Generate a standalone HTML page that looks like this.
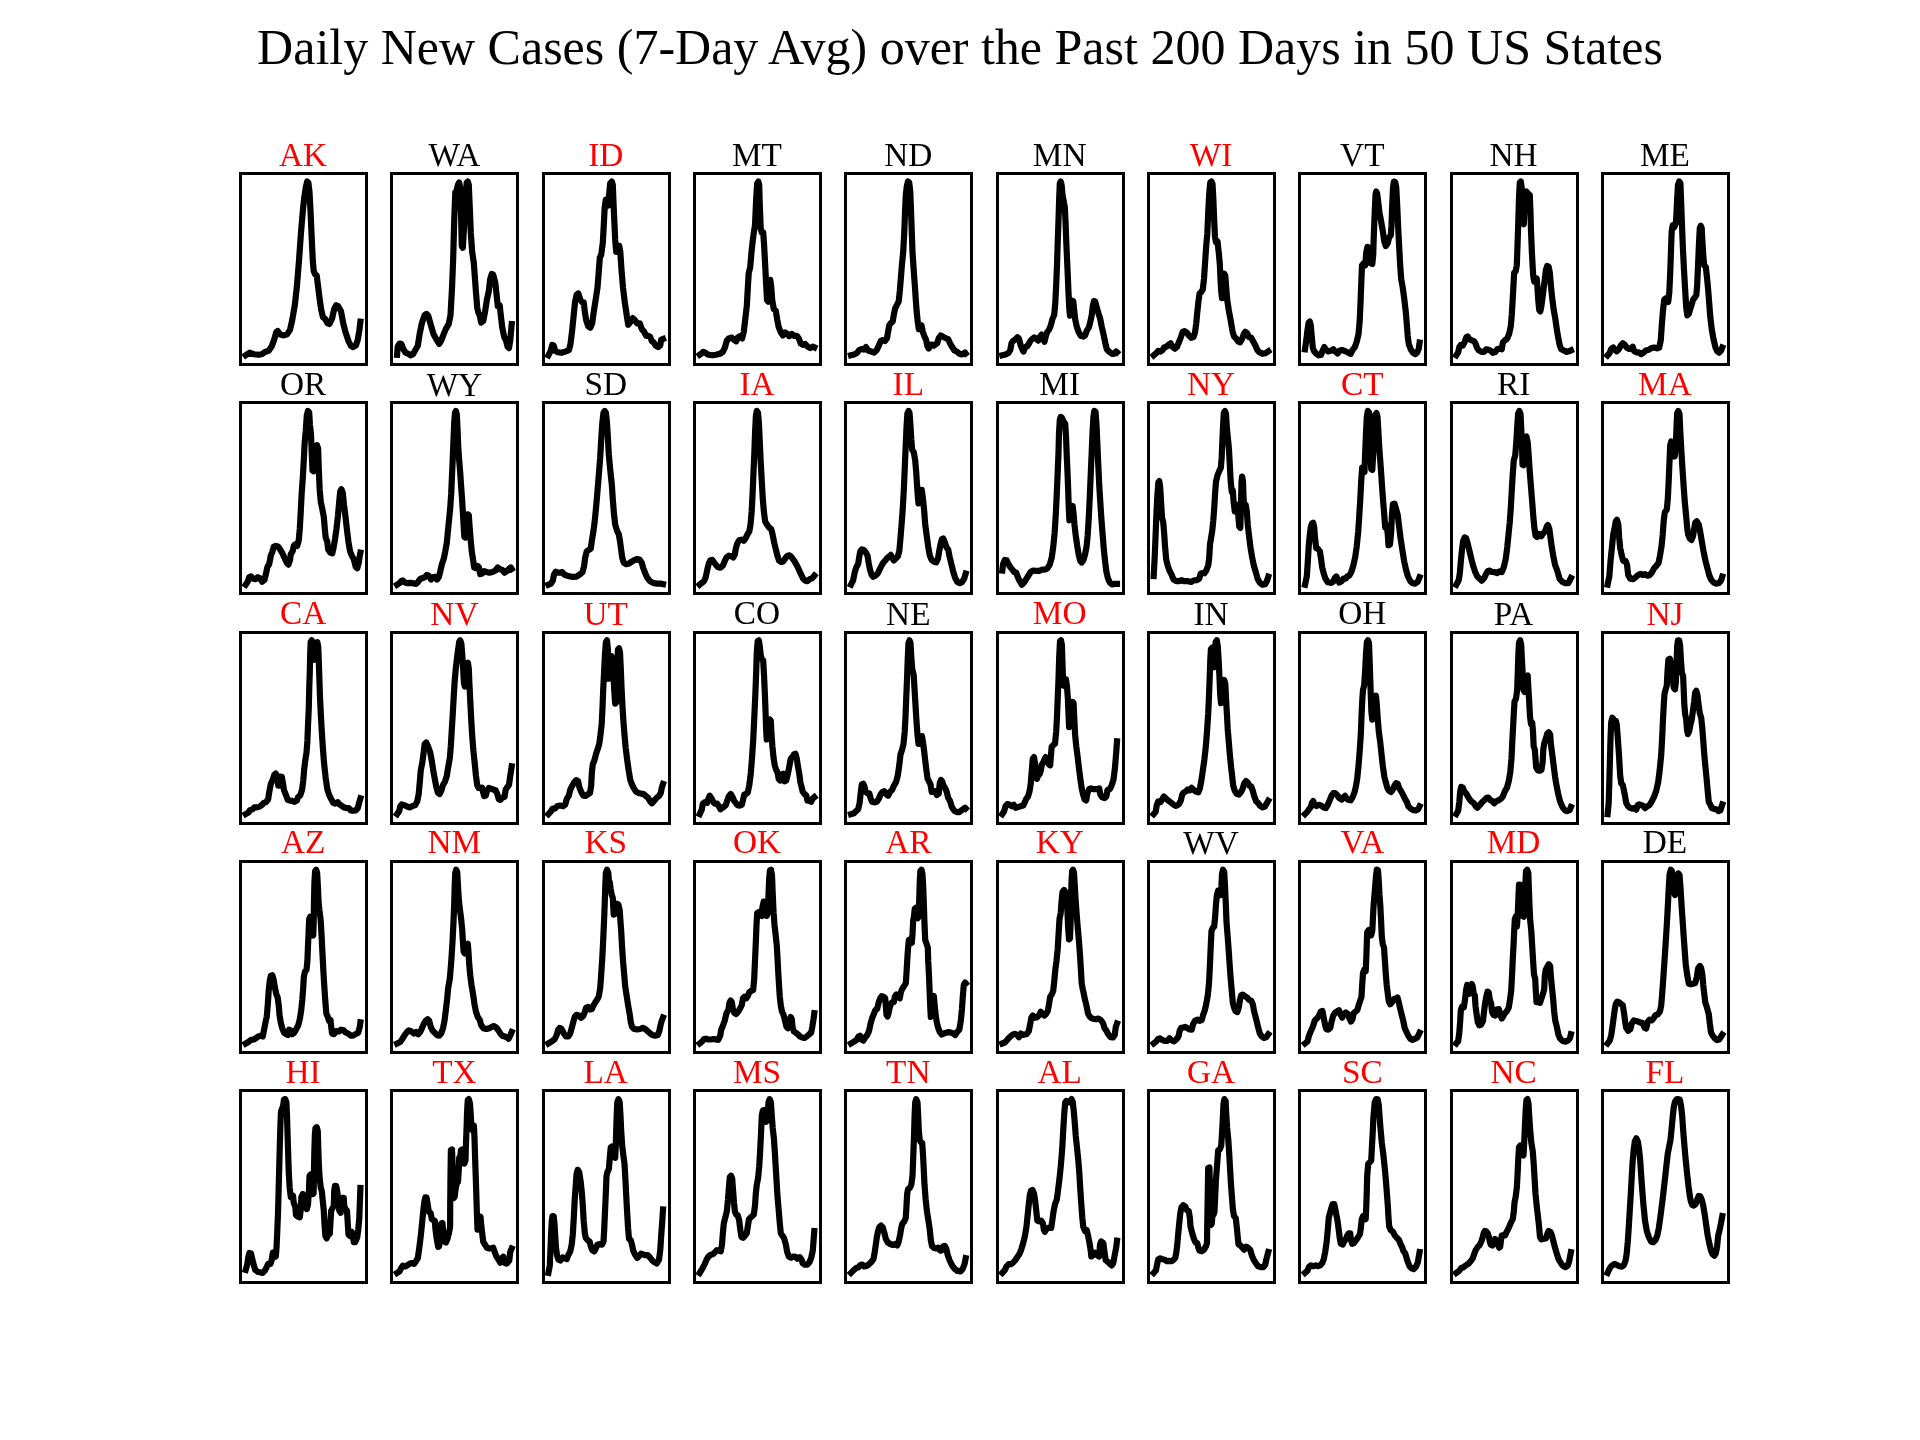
<!DOCTYPE html>
<html><head><meta charset="utf-8"><title>Daily New Cases</title>
<style>html,body{margin:0;padding:0;background:#fff}svg{display:block}text{font-family:"Liberation Serif",serif}</style></head>
<body><div style="will-change:transform;width:1920px;height:1440px;overflow:hidden">
<svg width="1920" height="1440" viewBox="0 0 1920 1440">
<rect width="1920" height="1440" fill="#fff"/>
<text x="960" y="63.5" font-size="50" text-anchor="middle" fill="#000">Daily New Cases (7-Day Avg) over the Past 200 Days in 50 US States</text>
<g font-size="33.3" text-anchor="middle">
<text x="303.1"  y="165.8" fill="#f00">AK</text>
<text x="454.4"  y="165.8" fill="#000">WA</text>
<text x="605.7"  y="165.8" fill="#f00">ID</text>
<text x="757.0"  y="165.8" fill="#000">MT</text>
<text x="908.3"  y="165.8" fill="#000">ND</text>
<text x="1059.7"  y="165.8" fill="#000">MN</text>
<text x="1211.0"  y="165.8" fill="#f00">WI</text>
<text x="1362.3"  y="165.8" fill="#000">VT</text>
<text x="1513.6"  y="165.8" fill="#000">NH</text>
<text x="1664.9"  y="165.8" fill="#000">ME</text>
<text x="303.1"  y="394.6" fill="#000">OR</text>
<text x="454.4"  y="395.6" fill="#000">WY</text>
<text x="605.7"  y="394.6" fill="#000">SD</text>
<text x="757.0"  y="394.6" fill="#f00">IA</text>
<text x="908.3"  y="394.6" fill="#f00">IL</text>
<text x="1059.7"  y="394.6" fill="#000">MI</text>
<text x="1211.0"  y="394.6" fill="#f00">NY</text>
<text x="1362.3"  y="394.6" fill="#f00">CT</text>
<text x="1513.6"  y="394.6" fill="#000">RI</text>
<text x="1664.9"  y="394.6" fill="#f00">MA</text>
<text x="303.1"  y="624.1" fill="#f00">CA</text>
<text x="454.4"  y="625.1" fill="#f00">NV</text>
<text x="605.7"  y="625.1" fill="#f00">UT</text>
<text x="757.0"  y="624.1" fill="#000">CO</text>
<text x="908.3"  y="625.1" fill="#000">NE</text>
<text x="1059.7"  y="624.1" fill="#f00">MO</text>
<text x="1211.0"  y="625.1" fill="#000">IN</text>
<text x="1362.3"  y="624.1" fill="#000">OH</text>
<text x="1513.6"  y="625.1" fill="#000">PA</text>
<text x="1664.9"  y="625.1" fill="#f00">NJ</text>
<text x="303.1"  y="853.4" fill="#f00">AZ</text>
<text x="454.4"  y="853.4" fill="#f00">NM</text>
<text x="605.7"  y="853.4" fill="#f00">KS</text>
<text x="757.0"  y="853.4" fill="#f00">OK</text>
<text x="908.3"  y="853.4" fill="#f00">AR</text>
<text x="1059.7"  y="853.4" fill="#f00">KY</text>
<text x="1211.0"  y="854.4" fill="#000">WV</text>
<text x="1362.3"  y="853.4" fill="#f00">VA</text>
<text x="1513.6"  y="853.4" fill="#f00">MD</text>
<text x="1664.9"  y="853.4" fill="#000">DE</text>
<text x="303.1"  y="1082.5" fill="#f00">HI</text>
<text x="454.4"  y="1082.5" fill="#f00">TX</text>
<text x="605.7"  y="1082.5" fill="#f00">LA</text>
<text x="757.0"  y="1082.5" fill="#f00">MS</text>
<text x="908.3"  y="1082.5" fill="#f00">TN</text>
<text x="1059.7"  y="1082.5" fill="#f00">AL</text>
<text x="1211.0"  y="1082.5" fill="#f00">GA</text>
<text x="1362.3"  y="1082.5" fill="#f00">SC</text>
<text x="1513.6"  y="1082.5" fill="#f00">NC</text>
<text x="1664.9"  y="1082.5" fill="#f00">FL</text>
</g>
<g fill="none" stroke="#000" stroke-width="3">
<rect x="240.5" y="173.5" width="126.0" height="191.0"/>
<rect x="391.5" y="173.5" width="126.0" height="191.0"/>
<rect x="543.5" y="173.5" width="126.0" height="191.0"/>
<rect x="694.5" y="173.5" width="126.0" height="191.0"/>
<rect x="845.5" y="173.5" width="126.0" height="191.0"/>
<rect x="997.5" y="173.5" width="126.0" height="191.0"/>
<rect x="1148.5" y="173.5" width="126.0" height="191.0"/>
<rect x="1299.5" y="173.5" width="126.0" height="191.0"/>
<rect x="1451.5" y="173.5" width="126.0" height="191.0"/>
<rect x="1602.5" y="173.5" width="126.0" height="191.0"/>
<rect x="240.5" y="402.5" width="126.0" height="191.0"/>
<rect x="391.5" y="402.5" width="126.0" height="191.0"/>
<rect x="543.5" y="402.5" width="126.0" height="191.0"/>
<rect x="694.5" y="402.5" width="126.0" height="191.0"/>
<rect x="845.5" y="402.5" width="126.0" height="191.0"/>
<rect x="997.5" y="402.5" width="126.0" height="191.0"/>
<rect x="1148.5" y="402.5" width="126.0" height="191.0"/>
<rect x="1299.5" y="402.5" width="126.0" height="191.0"/>
<rect x="1451.5" y="402.5" width="126.0" height="191.0"/>
<rect x="1602.5" y="402.5" width="126.0" height="191.0"/>
<rect x="240.5" y="632.5" width="126.0" height="191.0"/>
<rect x="391.5" y="632.5" width="126.0" height="191.0"/>
<rect x="543.5" y="632.5" width="126.0" height="191.0"/>
<rect x="694.5" y="632.5" width="126.0" height="191.0"/>
<rect x="845.5" y="632.5" width="126.0" height="191.0"/>
<rect x="997.5" y="632.5" width="126.0" height="191.0"/>
<rect x="1148.5" y="632.5" width="126.0" height="191.0"/>
<rect x="1299.5" y="632.5" width="126.0" height="191.0"/>
<rect x="1451.5" y="632.5" width="126.0" height="191.0"/>
<rect x="1602.5" y="632.5" width="126.0" height="191.0"/>
<rect x="240.5" y="861.5" width="126.0" height="191.0"/>
<rect x="391.5" y="861.5" width="126.0" height="191.0"/>
<rect x="543.5" y="861.5" width="126.0" height="191.0"/>
<rect x="694.5" y="861.5" width="126.0" height="191.0"/>
<rect x="845.5" y="861.5" width="126.0" height="191.0"/>
<rect x="997.5" y="861.5" width="126.0" height="191.0"/>
<rect x="1148.5" y="861.5" width="126.0" height="191.0"/>
<rect x="1299.5" y="861.5" width="126.0" height="191.0"/>
<rect x="1451.5" y="861.5" width="126.0" height="191.0"/>
<rect x="1602.5" y="861.5" width="126.0" height="191.0"/>
<rect x="240.5" y="1090.5" width="126.0" height="192.0"/>
<rect x="391.5" y="1090.5" width="126.0" height="192.0"/>
<rect x="543.5" y="1090.5" width="126.0" height="192.0"/>
<rect x="694.5" y="1090.5" width="126.0" height="192.0"/>
<rect x="845.5" y="1090.5" width="126.0" height="192.0"/>
<rect x="997.5" y="1090.5" width="126.0" height="192.0"/>
<rect x="1148.5" y="1090.5" width="126.0" height="192.0"/>
<rect x="1299.5" y="1090.5" width="126.0" height="192.0"/>
<rect x="1451.5" y="1090.5" width="126.0" height="192.0"/>
<rect x="1602.5" y="1090.5" width="126.0" height="192.0"/>
</g>
<g fill="none" stroke="#000" stroke-width="6.2" stroke-linejoin="round" stroke-linecap="square">
<polyline points="245.7,355.3 249.5,352.7 254.0,354.2 258.5,354.8 261.8,354.2 265.2,351.9 268.7,350.8 271.7,346.3 274.2,339.6 276.2,332.2 277.7,331.0 280.2,334.4 284.0,335.4 287.0,334.4 290.0,329.9 292.2,320.2 294.8,305.3 296.8,287.4 299.0,260.6 300.9,233.7 302.8,211.3 304.2,197.9 305.8,187.5 307.2,181.5 308.4,183.0 309.5,191.9 310.6,212.8 311.8,239.7 312.8,260.6 313.7,271.0 315.1,274.3 316.7,275.5 318.2,287.4 319.7,299.3 321.2,309.8 323.0,317.2 325.2,319.0 327.5,323.2 329.3,324.0 332.0,318.7 334.2,309.0 336.2,305.3 338.0,306.1 341.0,311.3 343.2,323.2 345.5,332.2 348.5,341.1 350.8,345.6 353.0,347.1 356.0,345.3 357.8,339.6 359.3,330.7 360.4,321.7"/>
<polyline points="397.1,354.8 397.7,346.6 399.5,343.6 401.3,343.9 403.2,348.8 405.5,352.6 408.5,353.8 410.8,355.3 413.0,354.1 415.2,350.3 417.8,345.8 419.8,333.1 422.0,322.6 424.7,315.1 426.5,313.9 428.3,315.9 431.0,325.6 433.7,334.6 436.2,339.1 439.2,343.9 441.2,340.6 443.8,333.9 446.0,328.6 448.7,324.1 450.5,315.1 452.0,288.2 453.2,258.2 454.2,220.7 455.3,192.3 456.5,190.8 458.0,184.8 459.2,182.5 460.2,187.8 461.0,213.3 461.8,246.2 462.8,247.7 464.0,228.2 465.5,198.3 466.7,182.5 467.8,181.5 468.8,184.8 469.7,205.8 470.8,232.7 472.2,252.2 473.8,262.7 474.8,276.2 476.0,292.7 477.2,307.6 478.2,312.1 479.8,315.9 481.2,322.6 483.2,321.1 485.0,312.1 486.8,300.1 488.8,291.2 490.2,279.2 491.8,273.9 493.2,274.7 495.2,282.2 496.7,295.7 497.8,306.1 499.7,305.4 500.8,315.1 502.2,327.1 504.2,336.9 506.0,340.6 507.5,346.6 509.0,348.1 510.2,340.6 511.7,324.1"/>
<polyline points="548.4,355.3 550.7,350.8 552.2,344.9 553.7,345.6 555.2,350.8 557.8,352.3 561.5,352.8 565.2,351.6 569.0,350.1 570.5,344.1 572.3,329.2 573.8,314.3 575.0,302.4 576.5,295.0 578.3,293.5 580.2,299.4 582.2,302.4 583.7,302.4 584.8,311.4 586.2,320.3 588.2,326.2 590.3,327.7 592.2,323.3 593.8,311.4 595.7,299.4 597.5,287.5 598.7,272.6 599.8,257.7 601.2,254.8 602.8,242.8 603.8,225.0 604.7,207.1 605.8,199.7 607.2,200.4 608.3,205.6 609.2,193.7 610.2,183.3 611.8,181.5 612.8,184.8 613.5,202.6 614.3,220.5 615.2,239.9 616.2,251.8 617.8,251.8 619.2,245.8 620.3,251.8 621.5,269.7 623.0,287.5 624.8,302.4 626.8,315.8 628.2,324.8 630.5,321.8 632.8,318.1 635.0,320.3 637.2,323.3 639.8,323.3 641.8,329.2 644.0,331.5 646.2,335.9 648.2,335.9 650.0,336.7 651.8,341.1 653.8,342.6 655.7,345.6 658.2,347.1 660.2,345.6 661.2,339.6 663.0,338.9"/>
<polyline points="699.7,354.8 701.8,353.3 703.2,351.8 705.5,352.9 708.5,354.8 712.2,355.3 716.0,354.8 719.8,353.8 722.8,351.8 725.0,347.3 726.8,340.6 728.8,338.4 731.8,337.6 734.0,339.9 736.2,341.3 737.8,337.6 740.0,336.1 742.2,338.4 743.8,331.6 745.2,319.6 746.8,306.1 747.8,288.2 748.7,273.2 750.2,267.2 751.2,255.2 752.8,240.2 753.8,232.7 755.0,225.2 756.2,198.3 757.2,183.3 758.3,181.5 759.2,184.8 759.8,205.8 760.7,228.2 761.8,232.7 763.2,232.7 764.0,243.2 765.2,265.7 766.2,285.2 767.0,300.1 768.2,301.6 769.2,288.2 770.3,279.9 771.2,286.7 772.2,300.1 773.8,309.1 775.7,310.6 777.2,319.6 778.7,327.1 780.8,332.4 782.8,335.4 785.0,332.4 787.2,333.9 789.2,336.1 791.8,333.9 794.0,335.8 796.7,335.8 798.8,338.4 800.8,343.6 803.0,344.8 805.2,343.9 807.5,346.6 810.2,348.1 812.8,346.6 814.3,347.3"/>
<polyline points="851.0,355.3 854.0,354.5 857.0,353.0 859.2,350.0 861.5,349.0 863.8,349.6 866.0,347.1 868.2,350.5 871.2,351.5 874.2,352.6 876.8,350.0 878.8,345.6 880.7,341.1 882.8,340.0 884.8,341.1 887.0,338.1 888.2,331.4 889.2,325.4 890.8,323.1 892.7,321.6 893.8,314.9 895.2,308.2 896.8,305.2 898.7,301.4 899.8,291.0 900.8,279.0 902.0,264.0 903.2,252.1 904.2,234.1 905.0,213.2 905.8,195.2 906.8,186.3 908.0,181.5 909.2,182.5 910.2,190.8 911.0,210.2 911.8,232.6 912.5,252.1 913.7,270.0 914.8,285.0 915.8,299.9 916.7,311.9 917.8,322.4 918.8,329.1 920.0,326.9 921.5,325.4 922.7,331.4 924.2,335.8 926.0,339.6 927.5,346.3 928.7,348.6 930.5,344.8 932.0,344.5 933.8,345.6 937.2,343.3 938.8,338.1 940.7,335.5 942.8,336.6 945.5,338.1 948.2,339.1 950.0,343.3 952.2,347.1 954.5,350.5 956.8,351.5 959.0,353.5 962.0,354.5 965.0,352.6 965.7,353.5"/>
<polyline points="1002.3,355.3 1005.5,354.5 1008.5,353.0 1010.3,350.0 1011.5,343.3 1013.0,341.1 1015.2,339.6 1017.5,337.3 1019.0,338.8 1020.5,344.8 1022.3,349.3 1023.5,351.5 1025.3,347.1 1027.2,346.3 1029.2,343.3 1030.2,341.1 1032.5,338.8 1034.3,337.3 1036.2,338.5 1038.2,340.6 1039.7,337.3 1041.5,334.6 1043.0,338.1 1044.5,341.8 1045.7,336.6 1047.2,332.1 1049.0,329.9 1050.8,325.4 1052.3,319.4 1054.2,314.9 1055.3,302.9 1056.2,285.0 1057.0,265.5 1057.7,243.1 1058.5,220.7 1059.2,198.2 1059.8,183.3 1060.7,181.5 1061.6,184.8 1062.5,195.2 1063.7,201.2 1064.8,207.2 1065.5,220.7 1066.2,240.1 1067.0,258.1 1067.8,276.0 1068.5,292.5 1069.2,307.4 1070.0,315.6 1071.0,310.4 1072.2,300.7 1073.3,301.4 1074.2,310.4 1075.2,319.4 1076.8,326.9 1078.7,332.1 1080.8,335.8 1083.5,336.6 1085.3,335.1 1086.8,330.6 1088.8,327.6 1090.2,322.4 1091.8,314.9 1092.8,305.9 1094.0,301.1 1095.2,301.4 1096.7,307.4 1098.5,313.4 1100.0,317.9 1101.8,326.9 1103.8,335.8 1105.7,344.8 1106.8,349.3 1109.0,351.5 1112.0,353.8 1114.2,353.8 1116.2,351.5 1117.0,352.3"/>
<polyline points="1153.7,355.3 1156.8,352.7 1158.2,350.8 1160.5,351.7 1162.8,349.8 1164.2,347.2 1166.5,346.8 1168.8,344.5 1170.7,343.3 1172.5,346.8 1174.8,348.7 1177.0,346.8 1179.2,341.5 1181.2,336.3 1182.7,331.8 1184.5,331.1 1186.8,332.6 1189.0,335.6 1191.2,337.8 1193.5,337.1 1195.0,332.6 1196.2,323.6 1197.2,313.2 1198.3,302.7 1199.5,293.8 1201.0,292.3 1202.8,289.3 1204.0,278.8 1205.2,260.9 1206.2,246.0 1207.3,234.0 1208.2,213.1 1209.2,193.7 1210.3,182.5 1211.5,181.5 1212.5,184.0 1213.3,198.2 1214.2,220.6 1215.0,237.0 1216.0,242.3 1217.5,241.5 1218.7,252.0 1219.8,263.9 1220.5,278.8 1221.2,290.8 1222.0,298.2 1223.2,287.8 1224.2,273.6 1225.3,275.9 1226.2,287.8 1227.2,299.7 1228.8,310.2 1230.7,320.6 1232.5,331.1 1234.0,336.3 1236.2,338.6 1238.2,341.5 1240.0,342.3 1242.2,338.6 1243.8,334.1 1245.2,331.8 1247.2,333.3 1249.0,337.1 1251.2,337.8 1253.2,341.5 1255.3,345.3 1257.2,349.8 1259.5,352.3 1262.5,353.8 1265.5,353.2 1268.3,351.3"/>
<polyline points="1305.0,349.3 1306.3,340.3 1307.5,329.9 1308.7,322.4 1309.8,321.6 1310.8,325.4 1311.7,335.8 1312.8,347.8 1314.2,351.5 1316.5,353.8 1318.8,355.3 1321.0,355.0 1322.5,350.8 1324.3,347.1 1326.2,350.0 1328.2,351.5 1330.8,350.8 1333.3,349.3 1335.2,351.5 1337.5,353.5 1339.8,350.5 1342.0,350.0 1345.0,351.1 1348.0,352.6 1350.7,353.8 1352.5,350.0 1354.8,347.1 1356.7,341.8 1358.5,334.3 1359.7,320.9 1360.5,302.9 1361.2,285.0 1362.0,265.5 1363.8,263.3 1365.2,265.5 1366.3,252.1 1367.5,246.8 1368.7,247.6 1369.8,255.1 1370.8,263.3 1372.3,264.0 1373.2,255.1 1373.8,235.6 1374.7,213.2 1375.5,195.2 1376.2,191.5 1377.2,193.8 1378.3,202.7 1379.5,213.2 1381.0,220.7 1382.8,231.1 1384.3,241.6 1385.8,246.1 1387.8,243.1 1389.2,237.1 1390.8,235.6 1391.5,225.2 1392.2,205.7 1393.0,187.8 1393.9,181.5 1395.2,182.1 1396.3,187.8 1397.2,205.7 1398.2,228.2 1399.3,249.1 1400.2,265.5 1401.2,279.0 1402.8,288.0 1404.2,298.4 1405.8,311.9 1406.8,323.9 1407.7,335.8 1408.8,344.1 1410.7,349.3 1413.2,353.0 1415.5,354.1 1417.3,352.3 1418.8,348.6 1419.6,342.6"/>
<polyline points="1456.3,355.3 1458.2,352.3 1459.3,347.1 1460.8,344.9 1462.8,345.6 1464.7,341.9 1466.2,337.4 1467.7,336.4 1469.5,339.3 1471.8,340.4 1474.0,341.1 1475.5,343.4 1477.0,347.8 1478.8,350.4 1481.5,351.9 1484.2,351.9 1486.3,349.3 1488.7,349.8 1490.8,350.8 1492.8,352.8 1495.0,352.3 1497.2,349.3 1499.2,348.6 1501.8,349.3 1502.8,342.6 1504.8,340.4 1507.0,338.9 1509.2,333.7 1510.8,326.2 1511.8,314.3 1512.7,299.4 1513.5,284.5 1514.2,272.6 1515.7,271.1 1516.8,265.2 1517.5,245.8 1518.2,225.0 1519.0,198.2 1519.8,182.5 1520.8,181.5 1521.7,187.7 1522.3,205.6 1522.9,223.5 1523.8,224.2 1524.4,210.1 1525.0,192.2 1526.2,191.5 1527.7,193.0 1528.8,195.2 1529.8,195.2 1530.4,210.1 1531.0,230.9 1531.8,250.3 1532.5,263.7 1533.2,275.6 1534.3,281.6 1535.5,279.3 1536.7,278.6 1537.5,287.5 1538.2,299.4 1539.2,309.9 1540.3,311.4 1541.5,305.4 1543.0,293.5 1544.5,281.6 1546.0,269.7 1547.2,265.9 1548.7,266.7 1549.8,272.6 1550.8,284.5 1552.0,296.5 1553.5,308.4 1555.3,318.8 1556.8,329.2 1558.3,338.2 1559.8,345.6 1561.3,349.3 1563.7,350.4 1566.2,351.9 1568.8,351.3 1570.9,350.4"/>
<polyline points="1607.6,355.3 1609.8,352.7 1611.2,349.0 1613.2,347.5 1615.0,349.8 1616.8,351.3 1618.8,349.3 1621.0,345.3 1622.8,343.3 1624.8,344.8 1627.0,347.8 1629.2,349.0 1631.2,348.3 1632.7,346.8 1634.2,351.3 1636.3,352.3 1638.7,352.3 1641.2,354.2 1643.5,352.7 1645.8,350.5 1648.8,349.8 1651.0,348.3 1654.0,347.5 1657.0,348.3 1659.2,347.5 1660.8,340.1 1661.8,325.1 1663.0,310.2 1664.2,299.7 1666.0,298.2 1668.2,302.0 1669.3,292.3 1670.2,272.9 1671.0,250.5 1671.7,231.1 1672.8,225.1 1674.2,227.3 1675.8,223.6 1676.5,213.1 1677.2,198.2 1678.0,184.8 1679.2,181.5 1680.4,183.3 1681.0,198.2 1681.8,220.6 1682.8,246.0 1684.0,269.9 1685.2,290.8 1686.2,307.2 1687.3,315.4 1688.8,313.9 1690.3,308.7 1691.8,304.2 1693.0,299.7 1694.8,297.5 1696.3,295.3 1697.2,284.8 1698.1,263.9 1699.0,243.0 1699.8,228.1 1700.8,225.8 1701.7,228.1 1702.3,240.0 1703.2,254.9 1704.2,265.4 1705.8,266.9 1706.8,275.9 1708.0,287.8 1709.2,302.7 1710.2,316.2 1711.8,329.6 1713.7,340.1 1715.5,347.5 1717.3,351.3 1719.2,352.7 1721.2,350.5 1722.3,347.5"/>
<polyline points="245.7,584.7 247.7,581.7 249.2,577.2 251.0,576.5 253.2,578.7 255.5,579.2 257.8,577.2 260.0,578.3 262.2,581.7 264.5,579.8 266.0,573.5 267.5,566.8 269.3,563.8 270.8,555.6 272.3,551.9 273.8,546.6 275.8,545.9 278.0,546.4 280.2,549.6 282.5,553.4 284.8,558.6 287.0,563.1 288.5,564.6 290.0,560.1 290.8,554.1 292.7,551.1 293.8,545.9 295.2,544.4 297.2,545.9 298.7,540.7 299.8,528.7 300.8,510.8 301.7,492.9 302.8,478.0 303.8,460.1 304.7,442.2 305.8,430.3 306.8,415.4 308.0,410.9 309.2,412.4 309.9,424.3 311.0,434.8 311.8,454.2 312.5,470.6 313.7,471.3 314.8,460.1 315.8,446.7 317.0,445.2 318.1,448.2 318.8,469.1 319.7,490.0 320.8,501.9 322.2,508.6 323.8,516.8 324.8,528.7 325.7,537.7 327.2,541.4 328.2,549.6 330.2,552.6 332.3,553.4 333.5,548.1 335.0,539.2 336.5,528.7 338.0,515.3 339.2,501.9 340.2,491.5 341.4,489.2 342.8,492.9 344.0,504.9 345.5,516.8 347.0,530.2 348.5,542.2 350.0,551.1 351.8,555.6 353.8,559.3 355.7,566.8 357.2,568.3 358.7,563.1 359.8,555.6 360.4,552.6"/>
<polyline points="397.1,584.7 399.5,583.2 401.3,581.0 402.8,580.5 404.8,582.4 407.0,583.2 410.0,582.9 413.0,583.2 416.0,583.9 418.2,581.7 420.5,578.7 422.8,578.0 425.0,577.2 426.8,575.0 428.8,575.7 431.0,579.5 432.8,577.2 434.8,576.9 437.0,579.5 438.8,577.2 440.3,571.2 441.8,564.5 443.8,558.5 445.2,551.8 446.8,542.8 447.8,532.3 449.0,520.4 450.2,508.4 451.2,493.5 452.0,475.5 452.8,457.6 453.5,439.6 454.2,423.2 455.0,412.7 455.9,410.9 456.8,414.2 457.6,430.6 458.3,448.6 459.2,460.6 460.2,472.5 461.0,484.5 462.1,499.4 462.8,511.4 463.7,526.4 464.3,536.8 465.5,537.6 466.7,524.9 467.8,514.4 468.8,515.1 469.7,527.9 470.8,541.3 471.8,551.8 473.0,559.3 474.2,567.5 475.7,568.2 477.5,566.0 479.0,567.5 480.2,574.2 482.0,573.5 484.2,571.2 486.5,572.0 489.5,572.7 492.5,572.0 495.5,570.5 497.8,567.5 500.0,569.4 502.2,569.7 504.5,572.7 506.8,571.2 509.0,569.0 510.8,567.5 511.7,569.0"/>
<polyline points="548.4,584.7 551.0,583.6 552.8,580.7 554.0,574.7 555.8,571.7 557.8,572.7 560.0,572.7 562.2,572.1 564.5,574.7 567.5,575.7 570.5,576.6 573.5,576.9 576.5,576.6 579.5,574.7 582.5,572.1 584.0,566.5 585.2,557.5 586.7,551.5 588.5,550.1 590.8,548.6 591.8,541.1 593.3,532.1 594.5,523.2 595.7,511.2 596.8,499.3 597.8,487.3 599.0,472.4 600.2,457.5 601.2,439.6 602.3,423.1 603.5,412.7 604.7,410.9 605.9,412.7 607.0,423.1 608.0,439.6 608.8,454.5 610.2,469.4 611.8,484.4 612.8,499.3 614.0,514.2 615.2,524.7 617.0,530.6 618.8,534.4 620.0,541.1 621.2,550.1 622.2,557.5 623.8,562.7 626.0,564.2 628.2,563.8 631.2,562.0 634.2,560.2 637.2,559.0 639.8,559.8 641.8,562.7 643.2,568.0 645.2,573.2 647.3,577.7 650.0,581.1 653.0,582.9 656.8,583.6 660.5,583.6 663.0,584.1"/>
<polyline points="699.7,584.7 702.2,582.6 704.3,580.7 705.8,576.9 707.3,569.5 708.8,563.5 710.3,560.5 712.2,559.8 713.8,562.0 716.0,565.0 718.2,567.2 720.5,567.7 722.8,565.7 724.7,561.2 726.5,557.5 728.8,555.7 731.0,556.0 733.2,557.5 734.8,554.5 735.8,548.6 737.3,543.3 739.2,540.3 741.5,539.6 743.8,540.8 745.7,538.1 747.5,534.4 749.3,531.4 750.5,524.7 751.7,511.2 752.6,493.3 753.5,472.4 754.4,451.5 755.1,432.1 755.9,415.7 756.8,410.9 758.0,412.7 758.9,423.1 759.8,442.5 760.7,462.0 761.8,481.4 762.8,499.3 764.0,512.7 765.2,521.7 767.0,524.7 769.2,527.7 771.2,529.1 772.7,535.1 774.2,542.6 776.0,550.1 777.5,556.0 779.0,560.5 781.2,562.0 783.5,561.2 785.3,558.3 787.2,556.0 789.5,555.3 791.3,556.8 794.0,560.5 796.2,564.2 798.5,568.7 800.8,573.9 803.0,578.4 805.2,580.7 807.5,581.1 809.8,579.2 812.0,578.4 814.3,575.7"/>
<polyline points="851.0,584.7 853.2,580.2 854.8,572.0 856.2,567.6 858.2,563.8 859.2,557.1 860.3,551.2 861.8,549.4 863.8,550.0 866.0,552.7 867.5,555.6 868.7,563.1 870.2,570.5 871.7,575.0 873.2,576.8 875.3,575.8 877.7,573.5 879.8,569.1 882.5,563.8 884.8,560.9 887.0,558.3 889.2,556.4 890.8,554.9 892.2,557.9 893.8,560.4 895.7,558.6 897.8,556.4 899.3,551.2 900.5,537.8 901.7,522.9 902.8,508.0 903.8,490.1 904.7,469.3 905.6,448.4 906.5,427.6 907.4,413.4 908.5,410.9 909.5,412.7 910.4,424.6 911.3,439.5 912.2,449.9 913.7,452.1 915.2,460.3 916.2,472.3 917.0,484.2 917.8,496.1 918.5,503.5 919.7,500.5 920.6,490.1 921.8,489.8 923.0,499.1 924.2,511.0 925.2,524.4 926.8,536.3 928.2,546.7 929.8,555.6 931.7,560.1 933.8,561.6 936.2,562.4 938.0,558.6 939.2,551.2 940.7,543.7 941.8,539.3 943.2,538.5 944.8,542.2 946.2,546.7 948.2,549.7 949.7,557.1 951.5,564.6 953.3,572.0 955.2,578.0 957.2,581.7 959.8,583.2 962.0,582.2 964.2,578.7 965.7,573.5"/>
<polyline points="1002.3,570.5 1003.2,563.7 1004.8,560.0 1006.7,560.4 1008.2,563.7 1010.0,566.7 1012.2,569.4 1014.2,572.0 1016.3,572.7 1017.8,577.2 1019.8,581.4 1022.0,584.7 1024.2,582.4 1026.5,578.7 1028.8,575.0 1030.7,572.0 1033.2,570.5 1036.2,570.9 1039.2,570.9 1042.2,569.7 1045.2,569.4 1047.5,568.2 1049.8,564.5 1051.7,557.7 1053.2,547.2 1054.7,532.3 1055.8,514.3 1056.8,493.3 1057.7,472.3 1058.5,452.8 1059.0,433.4 1059.8,419.9 1060.7,416.9 1061.8,417.6 1062.8,419.9 1064.0,422.1 1065.2,423.6 1066.0,436.4 1066.7,454.3 1067.5,472.3 1068.2,490.3 1068.8,508.3 1069.4,520.3 1070.6,518.8 1071.5,508.3 1072.7,506.0 1073.6,514.3 1074.5,524.8 1075.7,535.2 1077.2,545.7 1078.7,554.7 1080.2,560.7 1081.7,562.5 1083.5,560.0 1085.0,554.7 1086.5,547.2 1087.7,535.2 1088.8,517.3 1089.8,496.3 1090.7,475.3 1091.6,454.3 1092.5,433.4 1093.4,416.9 1094.3,410.9 1095.5,411.6 1096.4,422.9 1097.3,442.4 1098.2,463.3 1099.2,484.3 1100.3,502.3 1101.5,520.3 1102.7,535.2 1103.9,550.2 1105.2,562.2 1106.3,571.2 1107.8,577.9 1109.8,582.4 1112.0,584.4 1114.2,583.9 1117.0,583.9"/>
<polyline points="1153.7,576.0 1154.8,555.0 1155.7,532.5 1156.6,509.9 1157.5,493.4 1158.4,482.2 1159.3,481.1 1160.2,487.4 1161.1,502.4 1162.0,517.5 1163.2,522.0 1164.1,532.5 1165.0,546.0 1166.2,559.5 1167.7,565.5 1169.5,570.7 1171.8,575.2 1173.7,579.7 1176.2,581.2 1179.2,581.2 1181.5,580.2 1184.5,581.2 1188.2,581.2 1191.2,582.0 1193.5,580.5 1196.5,580.2 1199.2,578.7 1200.7,573.7 1202.5,573.0 1204.3,573.3 1206.2,570.7 1208.2,565.5 1209.2,558.0 1210.0,544.5 1211.2,537.0 1212.2,531.0 1213.3,520.5 1214.2,508.4 1215.1,493.4 1216.0,481.4 1217.5,475.4 1219.0,471.7 1220.8,467.9 1221.7,457.4 1222.3,442.4 1223.0,427.4 1223.8,413.1 1225.0,410.9 1226.0,413.9 1226.8,427.4 1228.0,439.4 1229.0,449.9 1229.8,464.9 1230.7,481.4 1231.8,491.9 1232.8,490.4 1233.7,502.4 1234.8,511.5 1235.8,506.9 1237.0,504.7 1238.2,514.5 1239.2,526.5 1240.3,528.0 1240.9,509.9 1241.5,481.4 1242.1,476.6 1243.0,481.4 1243.6,499.4 1244.5,509.2 1245.7,504.7 1246.8,511.5 1247.8,525.0 1249.0,535.5 1250.5,547.5 1252.0,556.5 1253.8,565.5 1255.8,572.2 1257.7,579.0 1259.8,582.7 1262.5,584.7 1265.2,584.2 1267.0,580.8 1268.3,576.7"/>
<polyline points="1305.0,584.7 1306.8,576.5 1307.8,561.6 1308.7,546.6 1309.8,534.7 1310.8,527.3 1312.0,523.5 1313.2,522.8 1314.2,527.3 1315.0,537.7 1316.2,548.1 1318.0,548.9 1319.8,551.1 1321.0,558.6 1322.2,567.5 1323.7,573.5 1325.5,578.7 1327.8,582.2 1330.8,582.8 1333.3,581.7 1334.8,578.0 1336.3,576.5 1337.8,579.5 1339.3,582.5 1341.7,581.0 1343.5,578.7 1345.8,578.7 1347.2,576.5 1349.2,575.7 1351.3,572.0 1353.2,566.0 1355.2,557.1 1356.7,546.6 1358.2,531.7 1359.2,516.8 1360.3,498.9 1361.2,481.0 1362.2,467.6 1363.8,469.1 1364.5,472.1 1365.1,454.2 1366.0,433.3 1366.8,416.9 1367.8,410.9 1369.0,412.4 1369.8,427.3 1370.5,448.2 1371.2,469.1 1372.3,469.8 1373.2,454.2 1374.2,430.3 1375.3,414.6 1376.5,413.1 1377.5,416.9 1378.3,430.3 1379.2,446.7 1380.2,460.1 1381.3,475.0 1382.2,488.5 1383.2,501.9 1384.3,515.3 1385.2,527.3 1386.7,525.0 1387.8,534.7 1388.5,545.2 1390.0,544.4 1391.2,531.7 1392.0,513.8 1393.0,504.1 1394.5,503.7 1396.0,508.6 1397.8,515.3 1399.0,525.8 1400.5,537.7 1402.3,549.6 1404.2,561.6 1406.2,570.5 1408.0,576.5 1410.2,581.0 1412.5,583.2 1415.2,583.6 1417.8,581.7 1419.6,577.2"/>
<polyline points="1456.3,584.7 1458.7,580.2 1459.8,573.5 1460.8,561.6 1462.0,549.6 1463.2,540.7 1464.7,537.4 1466.2,538.4 1467.7,543.7 1469.5,551.1 1471.3,558.6 1473.2,566.0 1475.2,572.0 1477.3,576.5 1479.7,578.7 1481.8,580.7 1484.2,578.0 1486.0,574.2 1487.5,571.3 1489.3,570.5 1491.7,572.0 1494.2,572.0 1497.2,573.2 1499.5,571.3 1501.8,572.0 1503.7,567.5 1505.8,558.6 1507.3,546.6 1508.5,534.7 1509.7,522.8 1510.8,507.9 1511.8,490.0 1512.7,475.0 1513.8,460.1 1515.2,455.7 1516.3,442.2 1517.2,427.3 1518.1,413.9 1519.3,410.9 1520.5,413.9 1521.2,427.3 1522.0,445.2 1522.5,464.6 1523.5,465.3 1524.4,454.2 1525.3,437.7 1526.5,436.6 1527.7,442.2 1528.8,457.1 1529.8,472.1 1531.0,487.0 1532.2,501.9 1533.2,515.3 1534.3,527.3 1535.5,535.5 1537.0,537.0 1539.2,534.0 1541.2,536.2 1543.3,533.2 1545.2,531.0 1546.8,526.5 1547.8,525.0 1549.3,528.7 1550.5,537.7 1551.7,546.6 1553.2,555.6 1555.0,564.6 1557.2,570.5 1559.5,578.7 1562.2,581.7 1565.2,583.2 1568.2,583.2 1570.9,578.0"/>
<polyline points="1607.6,584.7 1609.3,576.5 1610.5,561.6 1612.0,546.6 1613.2,534.7 1614.7,527.3 1615.8,521.3 1617.0,519.8 1618.3,524.3 1619.2,537.7 1620.2,548.1 1621.8,555.6 1623.2,560.8 1625.5,560.8 1627.0,564.6 1628.2,575.0 1630.3,578.7 1633.0,579.2 1635.7,577.2 1638.2,575.0 1640.5,573.8 1642.8,575.0 1645.0,574.2 1647.7,575.7 1649.8,575.0 1652.2,572.0 1654.0,568.3 1656.2,566.0 1658.5,563.1 1660.0,555.6 1661.5,546.6 1662.7,534.7 1663.8,519.8 1664.8,512.3 1666.8,509.4 1667.8,498.9 1668.7,481.0 1669.5,461.6 1670.2,445.2 1671.2,441.5 1672.5,442.2 1673.5,449.7 1674.7,456.4 1675.8,446.7 1676.5,427.3 1677.2,413.1 1678.3,410.9 1679.5,413.9 1680.2,430.3 1681.3,449.7 1682.5,469.1 1683.7,487.0 1684.8,501.9 1686.2,516.8 1687.3,528.7 1688.2,534.7 1689.7,538.4 1691.5,539.9 1693.0,536.2 1694.2,528.7 1695.2,522.8 1696.8,521.3 1698.7,524.3 1700.2,531.7 1701.7,540.7 1703.5,551.1 1705.3,560.1 1707.2,567.5 1709.2,575.0 1711.0,579.5 1713.7,582.5 1716.2,583.6 1718.8,583.2 1721.2,580.2 1722.3,576.5"/>
<polyline points="245.7,814.1 248.3,812.6 250.2,809.9 252.5,809.3 254.3,807.4 257.0,807.4 259.7,806.6 261.8,805.1 263.8,802.9 266.0,802.1 268.2,799.1 269.3,791.6 270.8,784.1 272.8,779.6 274.2,775.1 275.8,773.6 277.2,776.6 278.3,785.6 279.5,785.6 280.2,776.6 281.8,776.9 282.8,782.6 284.0,790.1 285.8,794.6 287.8,799.9 290.0,800.6 292.2,800.9 294.5,801.8 296.8,800.6 298.2,796.9 300.2,795.4 302.0,790.1 303.2,781.1 304.2,769.2 305.3,760.2 306.5,752.7 307.4,740.7 308.0,725.7 308.8,707.7 309.2,689.7 309.8,671.8 310.2,653.8 310.7,641.8 311.8,640.3 312.8,647.8 313.4,659.0 314.3,659.8 315.2,649.3 316.2,642.6 317.3,642.1 318.2,646.3 318.8,661.3 319.4,679.3 320.0,697.2 320.8,713.7 321.8,731.7 323.0,749.7 324.2,764.7 325.7,778.1 327.2,788.6 329.0,794.6 331.2,799.1 333.2,802.9 335.3,803.6 337.7,802.1 339.5,804.4 341.8,805.9 344.0,807.4 346.7,808.1 348.8,808.1 350.8,810.4 353.0,810.8 355.7,810.4 357.8,808.1 359.3,802.1 360.4,798.4"/>
<polyline points="397.1,814.1 399.2,811.1 400.2,806.6 401.8,804.4 404.0,805.1 407.0,806.6 410.0,807.4 412.2,806.2 415.2,805.1 417.2,801.4 418.7,794.0 419.8,782.0 420.8,770.1 422.3,762.6 423.5,753.7 424.7,744.0 426.2,742.5 428.0,746.2 430.2,752.2 431.8,761.1 433.2,770.1 434.8,779.0 436.2,786.5 437.8,792.5 439.7,794.0 441.5,790.2 443.0,785.0 444.8,782.0 446.8,776.1 448.2,767.1 449.8,758.2 450.8,746.2 451.7,731.3 452.8,713.4 453.8,695.5 454.7,680.6 455.8,668.6 456.8,659.7 458.0,650.7 459.2,641.8 460.2,640.3 461.3,643.3 462.2,653.7 463.1,668.6 464.0,683.6 464.9,686.5 465.8,676.1 466.7,663.4 467.9,662.7 468.8,668.6 469.4,683.6 470.3,701.5 471.2,719.4 472.2,735.8 473.4,750.7 474.8,764.1 476.0,776.1 477.2,785.0 478.7,788.0 480.5,788.3 482.0,787.7 483.2,792.5 484.2,796.2 485.8,795.4 487.2,790.2 488.8,788.0 491.0,788.7 493.2,789.5 495.5,790.2 497.3,794.0 498.8,799.2 500.3,799.9 502.2,797.7 504.5,796.9 505.7,789.5 507.2,787.2 509.0,785.0 510.2,776.1 511.7,766.4"/>
<polyline points="548.4,814.1 550.7,811.6 552.5,808.6 554.8,808.6 557.0,806.3 560.0,805.6 563.0,806.3 565.2,804.8 566.8,798.9 568.7,795.9 570.2,789.9 572.0,786.2 574.2,782.4 576.2,780.2 578.0,781.0 579.5,787.7 581.3,792.1 583.2,795.6 585.5,795.9 587.8,794.4 590.0,792.9 591.2,785.4 591.8,773.5 592.7,764.5 594.5,760.0 596.0,754.1 597.8,748.8 599.3,743.6 600.5,734.7 601.7,724.2 602.5,707.8 603.2,689.9 604.1,672.0 605.0,654.0 605.9,642.1 607.0,640.3 607.9,649.6 608.6,672.0 609.0,678.7 609.8,672.0 610.7,657.0 611.6,656.3 612.5,661.5 613.4,674.9 614.3,691.4 615.2,703.6 616.1,702.6 616.7,683.9 617.3,661.5 618.0,649.3 619.1,648.4 620.0,652.5 620.8,669.0 621.5,686.9 622.4,704.8 623.3,719.7 624.5,734.7 625.7,748.1 627.2,760.0 628.7,770.5 630.2,779.5 631.7,783.9 633.5,787.7 635.8,791.4 638.3,792.9 641.0,793.6 643.7,794.1 645.8,795.9 647.8,797.4 650.0,801.1 651.8,803.3 653.8,801.1 655.7,798.9 657.5,797.1 659.3,795.6 660.8,792.9 662.0,786.9 663.0,783.9"/>
<polyline points="699.7,814.1 701.8,809.6 702.8,803.7 704.8,802.2 707.0,802.9 708.5,798.4 709.7,795.7 711.5,798.4 713.3,802.2 715.2,803.7 717.2,803.7 718.7,805.9 720.5,809.2 722.8,807.7 725.8,805.1 727.2,800.7 728.8,796.2 730.7,794.0 732.5,796.9 734.0,800.7 735.8,802.9 737.3,805.1 740.0,805.6 741.8,804.7 743.0,799.9 744.2,794.7 746.0,794.0 747.8,792.5 749.3,785.0 750.8,773.1 752.0,758.2 753.2,740.3 754.2,719.4 755.3,695.5 756.2,671.6 756.8,652.2 757.7,641.0 758.8,640.3 759.8,646.3 760.7,655.2 761.8,659.0 763.2,660.4 764.0,674.6 764.8,692.5 765.5,710.4 766.1,728.3 766.7,739.5 767.9,737.3 768.8,725.3 769.7,719.4 770.8,720.9 771.5,734.3 772.4,746.2 773.6,758.2 774.8,765.6 776.0,769.3 777.5,772.3 778.7,779.0 780.2,780.5 781.7,774.6 783.2,773.8 784.7,781.3 786.2,780.5 787.7,774.6 789.2,767.1 790.7,758.9 792.5,756.7 794.0,754.4 795.5,753.7 796.7,758.2 797.8,765.6 799.2,773.1 800.3,782.0 801.5,786.5 802.7,791.7 804.5,794.0 806.3,795.4 807.5,800.7 809.3,800.7 811.2,801.7 812.8,798.4 814.3,797.2"/>
<polyline points="851.0,814.1 854.0,813.2 856.2,811.1 858.2,809.2 859.7,802.4 860.8,791.9 861.8,784.4 863.3,783.7 864.5,786.7 865.7,791.9 867.5,793.4 869.3,793.4 870.5,797.9 872.0,801.7 874.2,802.4 876.8,801.7 878.8,798.7 880.7,794.2 882.5,791.9 884.3,791.2 886.2,794.2 888.2,795.7 890.0,791.9 892.2,789.7 893.8,785.9 896.0,782.2 897.8,775.4 899.3,765.0 900.5,754.5 902.0,750.0 903.5,744.0 904.7,732.0 905.5,717.0 906.2,699.0 907.0,679.6 907.7,660.1 908.5,642.9 909.5,640.3 910.5,642.9 911.3,657.1 912.2,669.1 913.7,675.1 914.6,690.0 915.5,705.0 916.4,720.0 917.5,735.0 918.5,744.0 919.7,742.5 920.8,736.5 922.0,736.2 923.0,742.5 924.2,751.5 925.2,760.5 926.3,769.4 927.5,778.4 929.0,781.4 930.5,784.4 931.7,791.9 933.5,791.2 935.0,791.2 936.8,794.9 938.8,793.4 939.8,782.9 941.0,779.9 942.2,781.4 943.7,785.9 945.2,788.2 946.7,791.9 948.2,797.9 950.0,800.9 951.8,806.9 954.2,810.7 956.8,812.1 959.3,812.1 962.0,809.9 965.0,807.7 965.7,808.4"/>
<polyline points="1002.3,814.1 1004.0,811.6 1005.5,806.3 1007.3,804.1 1009.7,804.8 1011.8,806.3 1013.8,804.8 1015.7,807.8 1017.8,807.1 1020.5,806.3 1023.2,805.6 1025.0,801.9 1026.2,798.9 1028.0,796.6 1029.5,791.4 1030.7,783.9 1031.8,770.5 1032.8,758.6 1034.0,757.1 1035.2,764.5 1035.8,778.0 1037.0,778.7 1038.2,775.0 1039.7,774.2 1040.8,770.5 1041.8,764.5 1043.0,763.0 1044.5,759.3 1045.7,757.1 1047.5,758.6 1049.0,764.5 1050.2,765.3 1050.8,757.1 1051.7,746.6 1053.2,745.1 1055.0,743.6 1056.2,731.7 1057.0,716.7 1057.7,698.8 1058.5,679.4 1059.2,657.0 1060.0,641.3 1061.0,640.3 1061.9,645.1 1062.5,664.5 1063.2,685.4 1064.8,686.1 1066.0,679.4 1067.0,686.9 1067.9,698.8 1068.5,713.8 1069.1,727.2 1070.3,725.7 1071.5,710.8 1072.4,701.8 1073.6,703.3 1074.2,716.7 1075.1,734.7 1076.3,746.6 1077.5,755.6 1078.7,766.0 1080.2,778.0 1081.7,788.4 1083.2,795.1 1084.7,799.6 1086.2,800.4 1087.4,792.9 1089.2,789.2 1091.0,788.4 1094.0,789.2 1097.0,789.2 1099.2,788.4 1100.3,794.4 1102.2,797.4 1104.5,798.1 1106.3,796.6 1107.5,789.9 1109.8,789.2 1111.7,785.4 1113.5,779.5 1115.0,767.5 1116.2,752.6 1117.0,741.4"/>
<polyline points="1153.7,814.1 1155.7,811.8 1156.8,805.1 1158.2,801.4 1160.5,802.1 1162.3,799.1 1163.8,796.4 1165.8,798.4 1168.0,800.3 1170.7,802.4 1173.2,804.4 1176.2,805.9 1178.8,804.4 1180.8,800.6 1182.2,794.6 1183.8,792.4 1186.0,791.3 1187.8,789.4 1189.8,790.4 1191.7,787.9 1193.8,790.1 1195.8,791.6 1198.3,792.4 1199.8,788.6 1201.3,781.1 1202.8,770.6 1204.3,760.2 1205.8,746.7 1207.0,731.7 1208.2,713.7 1209.0,695.7 1209.7,677.8 1210.3,659.8 1210.9,649.3 1212.1,647.8 1213.0,653.8 1213.5,665.8 1214.2,667.3 1214.8,653.8 1215.7,641.8 1216.8,640.3 1217.8,646.3 1218.7,661.3 1219.5,677.8 1220.2,694.2 1221.0,703.2 1222.0,698.7 1222.9,683.8 1224.1,680.0 1225.3,683.8 1225.9,695.7 1226.8,712.2 1227.7,728.7 1228.8,742.2 1229.8,754.2 1231.0,766.2 1232.2,776.6 1233.2,785.6 1234.8,790.9 1236.7,793.9 1238.8,794.6 1240.8,792.4 1242.7,788.6 1244.2,783.4 1246.0,781.1 1247.8,782.6 1249.3,785.6 1251.2,786.4 1252.8,790.9 1254.2,796.1 1256.2,801.4 1258.0,802.9 1260.2,805.9 1262.5,807.4 1264.8,806.6 1267.0,802.9 1268.3,800.6"/>
<polyline points="1305.0,814.1 1307.5,811.6 1309.0,809.3 1310.8,807.1 1312.0,802.6 1313.2,801.1 1314.7,804.8 1316.5,806.0 1318.8,804.8 1321.3,805.6 1323.7,807.5 1325.8,808.1 1327.8,804.8 1329.7,800.3 1331.5,795.8 1333.3,793.2 1335.2,793.2 1337.2,795.1 1339.3,798.1 1341.7,799.6 1343.2,797.3 1345.0,795.8 1346.8,798.8 1348.8,800.0 1350.7,800.3 1352.5,797.3 1354.3,792.9 1355.8,786.9 1357.3,777.9 1358.5,765.9 1359.7,751.0 1360.8,734.5 1361.5,716.6 1362.2,701.6 1363.0,689.7 1364.2,685.2 1365.1,671.7 1366.0,653.8 1366.9,641.8 1368.0,640.3 1369.0,643.3 1369.6,659.7 1370.2,677.7 1370.8,695.6 1371.4,712.1 1372.3,719.6 1373.5,713.6 1374.7,698.6 1375.9,695.6 1376.8,704.6 1377.7,718.1 1378.8,731.5 1380.2,742.0 1381.5,754.0 1382.8,765.9 1384.3,776.4 1385.8,782.4 1387.3,787.6 1388.8,790.6 1390.8,792.1 1392.7,789.9 1394.2,786.1 1396.0,783.1 1397.8,783.9 1399.3,788.4 1401.2,791.4 1403.2,795.1 1405.0,798.8 1406.8,801.8 1408.3,806.3 1410.7,808.6 1413.2,810.1 1415.8,810.5 1418.2,809.3 1419.6,806.3"/>
<polyline points="1456.3,814.1 1458.2,810.8 1459.3,801.8 1460.2,791.4 1461.2,786.9 1462.8,787.6 1464.2,791.4 1466.2,793.6 1468.0,796.6 1469.8,799.6 1471.8,801.8 1474.0,803.3 1475.8,806.3 1477.3,807.8 1479.2,805.6 1481.8,802.6 1484.2,800.3 1486.3,798.1 1488.2,797.6 1490.2,800.0 1492.3,801.1 1494.2,803.3 1496.5,801.1 1498.8,800.3 1501.0,798.8 1502.8,796.6 1504.8,791.4 1507.0,787.6 1508.8,780.9 1510.3,771.9 1511.5,758.5 1512.2,743.5 1513.0,728.5 1513.8,713.6 1514.5,701.6 1516.0,698.6 1517.2,689.7 1517.8,671.7 1518.4,653.8 1519.0,642.5 1520.2,640.3 1521.2,644.8 1522.0,661.2 1522.8,676.2 1523.5,689.7 1524.7,691.9 1525.6,686.7 1526.5,676.2 1527.7,675.5 1528.3,686.7 1529.2,701.6 1530.0,716.6 1531.0,724.1 1532.2,722.6 1533.0,731.5 1533.7,746.5 1534.8,749.5 1535.5,758.5 1536.2,767.4 1537.8,770.4 1539.7,770.7 1541.5,769.7 1542.7,761.5 1543.3,749.5 1544.2,743.5 1545.7,739.0 1547.2,733.8 1548.7,732.3 1550.2,734.5 1550.8,743.5 1552.0,752.5 1553.5,764.4 1555.0,776.4 1556.5,785.4 1558.3,794.4 1560.2,801.8 1562.5,807.1 1564.8,810.1 1567.0,811.1 1569.7,810.1 1570.9,807.1"/>
<polyline points="1607.6,814.1 1608.7,802.9 1609.3,783.5 1609.9,761.0 1610.5,738.6 1611.2,722.2 1612.3,717.7 1613.5,719.2 1614.7,722.2 1615.9,721.0 1616.8,725.2 1617.7,737.1 1618.8,752.1 1619.5,764.0 1620.2,776.0 1621.3,783.5 1622.8,785.0 1624.0,790.9 1625.2,796.9 1626.2,802.9 1627.8,805.9 1629.7,807.7 1632.2,808.6 1634.5,808.1 1636.3,809.6 1637.8,805.1 1639.3,804.4 1641.2,805.1 1643.2,805.9 1645.0,808.1 1646.8,806.6 1649.5,805.1 1651.8,801.4 1654.0,796.9 1656.2,790.9 1658.2,782.0 1659.7,770.0 1661.2,755.1 1662.2,737.1 1663.0,719.2 1663.8,704.3 1664.5,693.8 1665.7,689.3 1666.8,685.6 1667.5,671.4 1668.4,659.4 1669.8,658.7 1670.8,662.4 1671.7,671.4 1672.9,680.4 1673.8,687.8 1675.0,689.3 1675.9,681.8 1676.5,663.9 1677.2,646.0 1678.0,640.3 1679.2,640.3 1680.1,646.0 1681.0,660.9 1681.9,672.9 1683.1,675.9 1683.7,689.3 1684.3,704.3 1685.2,714.7 1686.2,719.2 1687.0,729.7 1687.9,734.1 1689.2,731.2 1690.3,725.2 1691.8,719.2 1693.0,710.2 1694.2,701.3 1695.2,692.3 1696.3,690.8 1697.5,695.3 1698.7,705.8 1699.8,713.2 1701.2,717.7 1702.3,728.2 1703.2,740.1 1704.2,753.6 1705.3,765.5 1706.5,777.5 1707.7,790.9 1708.8,802.1 1710.2,804.4 1711.8,808.1 1714.0,808.9 1716.2,809.2 1718.5,811.1 1720.3,810.4 1722.3,804.4"/>
<polyline points="245.7,1043.5 248.8,1041.7 251.0,1039.9 253.7,1039.5 256.2,1038.0 258.2,1036.5 260.8,1035.7 262.7,1036.5 263.8,1031.2 265.2,1023.8 266.8,1016.3 267.8,1004.3 268.7,990.9 269.8,980.4 270.8,975.9 272.3,975.2 273.5,978.9 274.7,986.4 276.2,993.8 277.7,997.6 278.8,1005.8 279.5,1014.8 280.7,1022.3 282.2,1028.2 284.0,1032.7 286.2,1034.2 287.8,1035.0 289.2,1029.7 290.8,1030.5 292.2,1034.2 294.2,1032.7 296.0,1029.7 298.2,1025.3 299.8,1019.3 301.2,1010.3 302.3,999.8 303.2,987.9 303.8,977.4 305.0,971.4 306.5,969.9 307.4,960.9 308.0,946.0 308.6,932.5 309.2,919.1 310.2,916.8 311.3,920.6 311.9,934.0 313.2,935.5 313.7,922.1 314.0,901.1 314.4,883.2 315.1,871.2 316.1,869.7 317.1,872.7 317.9,886.2 318.5,901.1 319.4,910.1 320.6,919.1 321.5,934.0 322.4,952.0 323.3,969.9 324.2,984.9 325.2,999.8 326.3,1013.3 327.8,1017.0 329.0,1020.8 330.5,1020.0 331.2,1026.8 332.0,1033.5 333.8,1034.2 336.2,1031.2 338.8,1031.5 341.0,1029.7 343.2,1030.0 345.5,1032.4 348.2,1033.5 350.8,1035.7 353.0,1035.7 356.0,1033.9 358.2,1032.7 359.8,1026.8 360.4,1022.3"/>
<polyline points="397.1,1043.5 400.2,1042.0 402.5,1038.7 404.8,1035.0 407.0,1032.0 408.8,1030.5 411.5,1031.5 413.8,1033.5 416.0,1032.0 418.2,1034.2 420.2,1032.0 422.0,1028.2 423.8,1023.8 425.8,1020.8 427.7,1019.3 429.2,1020.8 430.7,1026.8 432.5,1030.5 434.8,1032.7 437.0,1035.0 439.2,1035.7 441.2,1033.5 443.0,1028.2 444.5,1020.8 446.0,1008.8 447.2,998.3 448.2,987.9 449.8,978.9 450.8,966.9 451.7,955.0 452.6,940.0 453.5,922.1 454.2,904.1 454.7,886.2 455.3,872.7 456.2,869.7 457.2,872.0 458.0,886.2 458.8,899.6 459.8,908.6 461.0,917.6 462.2,929.5 462.8,940.0 463.7,952.0 464.8,953.5 466.2,946.0 467.8,943.7 468.5,952.0 469.2,963.9 470.3,975.9 471.5,984.9 473.0,993.8 474.5,1004.3 476.0,1011.8 477.8,1017.0 479.8,1020.0 481.2,1025.3 483.5,1028.2 486.5,1029.0 489.5,1028.2 491.8,1026.8 494.0,1026.0 496.2,1027.5 498.5,1030.5 500.3,1033.5 502.2,1035.7 504.8,1036.5 506.8,1037.2 508.7,1038.7 510.5,1035.0 511.7,1032.0"/>
<polyline points="548.4,1043.5 551.8,1041.4 554.8,1039.0 556.7,1035.0 558.2,1029.7 559.7,1027.9 561.5,1029.0 563.8,1033.5 566.0,1036.5 568.2,1036.5 570.2,1033.5 571.7,1028.2 573.2,1022.3 574.7,1017.0 576.5,1014.8 578.8,1015.5 581.0,1017.8 583.2,1016.0 584.8,1011.8 586.2,1007.6 588.2,1007.0 590.0,1009.6 591.8,1009.1 593.3,1005.8 595.2,1002.5 597.2,999.5 598.7,996.8 600.2,987.9 601.2,974.4 602.3,958.0 603.2,940.0 604.0,922.1 604.7,904.1 605.3,886.2 605.9,872.7 607.0,869.7 608.3,872.7 608.9,880.2 609.8,882.4 610.7,889.2 611.8,895.1 612.8,898.1 613.2,905.6 613.7,914.6 614.9,913.8 616.1,905.6 617.3,903.8 618.5,904.9 619.7,910.1 620.3,919.1 621.2,931.0 622.0,946.0 623.0,960.9 624.2,974.4 625.2,986.4 626.8,996.8 628.2,1005.8 629.8,1014.8 630.8,1022.3 632.0,1026.8 634.2,1029.0 637.2,1029.4 640.2,1029.0 642.8,1027.9 645.2,1029.0 647.3,1030.9 649.7,1033.0 652.2,1035.0 655.2,1035.7 657.8,1035.0 659.3,1031.2 660.5,1025.3 661.7,1020.8 663.0,1017.5"/>
<polyline points="699.7,1043.5 702.2,1041.4 704.0,1039.0 705.8,1038.7 708.2,1039.5 710.8,1039.5 713.8,1039.0 716.0,1039.5 718.2,1039.9 720.2,1035.7 721.2,1029.7 722.8,1026.0 724.7,1020.7 726.5,1013.2 728.3,1010.2 729.5,1002.8 730.7,1000.5 731.8,1002.0 732.8,1008.7 734.3,1012.9 736.2,1014.0 738.2,1011.7 740.0,1008.7 741.8,1005.0 743.0,998.3 744.5,996.8 746.3,998.3 747.8,996.0 749.3,992.3 751.2,990.8 753.2,990.0 754.2,978.8 755.0,960.8 755.8,942.8 756.5,924.8 757.2,912.9 758.8,912.1 760.2,915.1 761.8,915.9 762.5,906.9 763.7,901.6 764.8,902.4 765.5,909.9 766.7,915.9 767.8,912.9 768.5,894.9 769.2,878.4 770.0,870.2 771.0,869.7 772.0,875.4 772.7,893.4 773.6,912.9 774.5,924.8 775.7,935.3 776.8,945.8 777.5,957.8 778.2,971.3 779.0,984.8 779.8,996.8 780.8,1005.7 782.0,1011.7 783.5,1014.7 785.0,1020.7 786.5,1026.7 788.0,1028.2 789.2,1020.7 790.7,1017.0 791.8,1019.2 792.5,1026.7 793.7,1031.2 795.8,1032.7 797.8,1034.2 800.0,1036.5 802.2,1037.5 804.5,1038.0 806.8,1036.5 809.0,1034.5 811.2,1032.7 812.3,1026.7 813.5,1019.2 814.3,1013.2"/>
<polyline points="851.0,1043.5 854.0,1041.7 856.7,1039.9 858.5,1036.5 860.0,1035.7 861.5,1039.5 863.3,1040.5 865.2,1037.5 867.2,1035.0 869.0,1031.2 870.5,1023.8 872.0,1018.5 873.8,1014.0 875.3,1010.3 877.2,1008.8 878.8,1002.1 880.2,998.3 881.8,996.1 883.7,996.8 885.2,998.3 885.8,1005.8 886.5,1014.8 887.5,1016.6 888.5,1013.3 889.7,1007.3 891.5,1002.8 893.8,1002.1 894.8,996.8 896.3,994.6 898.2,996.8 899.8,998.3 900.8,992.4 902.0,989.4 903.8,986.4 905.8,983.4 906.5,972.9 907.2,960.9 908.0,949.0 908.8,940.0 910.2,939.3 911.8,943.0 912.5,934.0 913.2,920.6 914.0,916.1 914.8,908.6 915.8,907.8 916.5,914.6 917.8,918.3 918.8,916.1 919.2,901.1 919.7,883.2 920.3,871.2 921.5,869.7 922.5,874.2 923.3,889.2 923.9,905.6 924.5,923.6 925.2,940.0 926.3,943.0 927.8,947.5 928.2,960.9 929.0,975.9 929.6,990.9 930.2,1005.8 930.8,1017.0 931.7,1011.8 932.6,996.8 933.8,996.1 934.7,1005.8 935.8,1016.3 936.8,1022.3 938.3,1028.2 939.8,1032.0 941.8,1034.5 944.0,1033.5 946.2,1032.7 948.8,1032.0 951.2,1032.7 953.3,1033.5 955.2,1035.0 957.2,1032.0 959.3,1029.7 960.8,1020.8 962.0,1008.8 962.9,995.3 963.8,984.9 965.0,982.6 965.7,983.4"/>
<polyline points="1002.3,1043.5 1004.8,1042.5 1007.0,1040.2 1008.8,1038.0 1011.2,1035.7 1013.3,1034.2 1015.2,1033.9 1017.2,1035.0 1019.0,1037.2 1020.8,1033.5 1022.8,1035.0 1024.7,1034.5 1026.8,1033.9 1028.8,1031.2 1030.2,1023.8 1031.3,1017.8 1032.8,1015.5 1034.8,1017.8 1036.7,1017.5 1038.8,1015.5 1040.8,1011.8 1042.2,1013.3 1044.2,1015.5 1046.0,1014.0 1047.8,1011.0 1049.0,1004.3 1050.2,996.8 1051.7,994.6 1053.2,990.9 1054.2,981.9 1055.3,969.9 1056.5,960.9 1057.7,949.0 1058.6,934.0 1059.5,919.1 1060.7,913.1 1061.6,901.1 1062.5,892.1 1064.0,889.9 1065.5,892.1 1066.7,898.1 1067.5,913.1 1068.2,928.0 1069.0,939.3 1070.0,938.5 1070.6,922.1 1071.0,901.1 1071.5,881.7 1072.1,871.2 1073.0,869.7 1074.0,872.7 1074.8,886.2 1075.7,901.1 1076.8,916.1 1077.8,928.0 1079.0,941.5 1080.2,958.0 1081.0,971.4 1081.7,983.4 1082.8,989.4 1083.8,993.8 1085.0,999.8 1086.5,1005.8 1088.0,1013.3 1089.5,1016.3 1091.3,1018.1 1094.0,1019.0 1096.2,1019.3 1098.5,1018.5 1100.8,1020.0 1103.0,1023.0 1104.5,1028.2 1106.3,1030.5 1108.2,1034.2 1110.5,1037.2 1112.8,1037.5 1114.7,1035.0 1115.8,1026.8 1117.0,1023.5"/>
<polyline points="1153.7,1043.5 1156.3,1041.4 1158.2,1038.7 1160.2,1038.4 1162.3,1039.9 1164.7,1041.0 1167.2,1041.0 1169.5,1038.4 1171.8,1040.5 1174.0,1041.4 1176.2,1039.5 1178.5,1036.5 1179.7,1030.5 1181.2,1027.9 1183.3,1027.5 1185.2,1026.8 1187.5,1028.2 1189.8,1029.4 1191.7,1029.7 1193.2,1023.8 1195.0,1020.8 1197.2,1019.6 1199.5,1020.8 1201.8,1020.0 1203.2,1014.8 1204.8,1010.3 1206.2,1004.3 1207.8,995.3 1209.0,983.4 1209.7,969.9 1210.3,956.5 1210.9,943.0 1211.5,931.0 1212.7,928.0 1214.2,926.5 1215.2,916.1 1216.0,904.1 1216.9,895.1 1218.1,890.6 1219.3,891.4 1220.5,895.1 1221.4,886.2 1222.0,874.2 1223.0,869.7 1224.2,872.0 1225.0,886.2 1225.8,904.1 1226.5,922.1 1227.7,937.0 1228.8,952.0 1229.8,966.9 1230.7,978.9 1231.8,990.9 1232.8,1002.8 1234.0,1007.3 1235.5,1011.0 1237.3,1012.1 1238.8,1007.3 1240.0,999.8 1241.2,995.3 1242.7,994.6 1244.8,996.1 1247.2,997.6 1249.0,999.8 1251.2,1000.6 1252.8,1004.3 1254.2,1011.8 1256.2,1019.3 1258.0,1026.8 1259.8,1033.5 1261.8,1036.5 1264.0,1038.0 1266.2,1037.2 1268.3,1034.2"/>
<polyline points="1305.0,1043.5 1307.5,1041.4 1309.0,1035.7 1310.8,1031.2 1312.8,1026.7 1314.7,1020.7 1316.8,1018.5 1318.8,1016.2 1320.7,1011.7 1322.5,1011.0 1323.7,1017.7 1325.2,1025.2 1326.2,1029.0 1328.2,1029.7 1330.3,1027.9 1331.8,1020.7 1333.3,1015.5 1335.2,1012.5 1337.5,1011.0 1339.0,1010.2 1340.5,1014.7 1342.3,1017.7 1343.8,1014.0 1345.8,1012.5 1348.0,1014.0 1349.5,1018.5 1351.0,1021.5 1352.5,1019.2 1353.7,1013.2 1355.5,1011.7 1357.3,1010.2 1358.5,1005.7 1360.0,1001.3 1361.5,996.8 1362.2,984.8 1363.0,972.8 1364.2,969.8 1365.7,971.3 1366.3,957.8 1366.8,942.8 1367.2,932.3 1368.7,930.1 1370.2,932.3 1371.2,935.3 1372.3,930.8 1372.9,918.9 1373.5,906.9 1374.2,897.9 1375.0,888.9 1375.9,876.9 1376.8,869.7 1378.0,870.2 1378.9,882.9 1379.5,894.9 1380.2,903.9 1381.0,918.9 1381.8,936.8 1382.8,944.3 1384.0,947.3 1384.9,960.8 1385.8,974.3 1386.7,984.8 1387.8,993.8 1388.8,1001.3 1390.3,1004.3 1392.2,1002.0 1394.2,999.0 1396.0,998.3 1397.5,997.5 1398.7,1002.0 1400.2,1008.7 1401.7,1014.7 1403.2,1020.7 1404.7,1028.2 1406.5,1032.0 1408.3,1035.7 1410.2,1038.7 1412.5,1039.9 1415.2,1038.7 1417.3,1037.5 1419.6,1032.7"/>
<polyline points="1456.3,1043.5 1458.2,1041.0 1459.3,1032.7 1460.2,1020.8 1460.8,1010.3 1462.0,1006.6 1463.8,1007.3 1465.0,999.8 1466.2,989.4 1467.2,984.9 1468.8,987.1 1469.8,993.8 1470.7,986.4 1471.8,984.1 1472.8,986.4 1473.7,993.8 1474.8,995.3 1475.5,1005.8 1476.7,1014.8 1477.8,1022.3 1479.2,1025.3 1481.2,1024.5 1483.0,1020.8 1484.2,1010.3 1485.2,1002.8 1486.3,996.8 1487.5,991.6 1488.7,992.4 1489.8,999.8 1491.2,1003.6 1492.0,1011.8 1493.5,1014.8 1495.3,1015.5 1496.5,1009.6 1498.8,1009.1 1500.2,1014.8 1501.8,1018.5 1503.2,1016.3 1504.8,1013.3 1507.0,1011.0 1508.8,1007.3 1510.0,999.8 1511.2,990.9 1512.0,975.9 1512.7,960.9 1513.5,946.0 1514.2,931.0 1514.8,919.1 1516.0,916.1 1516.9,926.5 1517.8,913.1 1518.4,898.1 1519.0,884.7 1520.0,884.7 1520.8,895.1 1521.7,907.1 1522.8,916.1 1523.8,916.8 1524.7,904.1 1525.3,886.2 1526.0,871.2 1527.2,869.7 1528.3,872.7 1528.9,889.2 1529.5,905.6 1530.2,920.6 1531.3,931.0 1532.2,946.0 1533.1,960.9 1534.0,974.4 1535.2,978.9 1535.8,990.9 1536.5,1002.1 1538.2,1002.1 1540.0,1002.8 1541.5,998.3 1543.0,993.8 1544.2,989.4 1544.8,975.9 1545.7,969.9 1547.2,966.9 1548.7,964.2 1550.2,966.2 1550.8,975.9 1552.0,987.9 1553.2,999.8 1554.2,1011.8 1555.3,1020.8 1556.8,1026.8 1558.3,1034.2 1560.2,1038.7 1562.8,1041.0 1565.5,1041.7 1568.2,1040.5 1570.0,1038.0 1570.9,1034.2"/>
<polyline points="1607.6,1043.5 1609.8,1040.5 1611.2,1035.3 1612.3,1027.8 1613.5,1018.9 1614.7,1009.9 1615.8,1004.0 1617.2,1001.7 1619.2,1002.5 1621.0,1004.0 1622.8,1005.5 1624.0,1012.9 1625.2,1021.9 1626.2,1027.8 1628.2,1030.8 1630.3,1029.3 1631.8,1023.4 1633.8,1020.4 1636.0,1021.1 1638.2,1021.6 1640.5,1022.6 1642.8,1023.1 1644.7,1027.8 1646.2,1028.6 1647.7,1021.9 1649.5,1019.6 1651.8,1020.4 1653.7,1018.1 1655.5,1015.2 1657.8,1014.4 1660.0,1011.4 1661.2,1005.5 1662.2,993.5 1663.3,978.6 1664.5,960.7 1665.7,942.8 1666.8,924.9 1667.8,907.0 1668.7,889.1 1669.6,874.2 1670.8,869.7 1672.0,871.2 1672.8,880.2 1673.8,892.1 1675.0,895.1 1676.2,890.6 1677.2,878.7 1678.3,873.4 1679.5,874.9 1680.4,886.1 1681.3,901.0 1682.5,918.9 1683.7,936.8 1684.8,951.8 1685.8,965.2 1687.3,975.6 1688.8,983.8 1690.8,984.3 1693.0,983.8 1695.2,983.1 1696.8,977.1 1698.2,968.2 1699.8,965.9 1701.2,968.2 1702.3,974.1 1703.2,984.6 1704.2,993.5 1705.3,1002.5 1706.8,1007.0 1708.8,1014.4 1709.8,1023.4 1711.0,1032.3 1712.5,1035.3 1714.8,1038.3 1717.0,1040.1 1719.2,1039.5 1722.3,1034.6"/>
<polyline points="245.7,1269.9 247.2,1264.6 248.3,1257.1 249.5,1252.9 251.0,1253.4 252.2,1258.6 253.7,1264.6 255.2,1269.9 257.8,1271.9 260.0,1272.2 262.7,1272.9 264.8,1270.7 266.8,1266.9 268.2,1263.9 270.5,1263.9 271.7,1260.1 272.8,1252.6 274.2,1257.1 275.8,1256.4 276.5,1248.1 277.2,1233.1 278.0,1213.6 278.6,1191.0 279.2,1168.5 279.8,1146.0 280.4,1125.0 281.0,1111.4 282.2,1108.4 283.2,1105.4 284.0,1099.4 285.2,1099.1 286.4,1102.4 287.0,1115.9 287.6,1135.5 288.2,1155.0 288.8,1173.0 289.7,1188.0 290.8,1197.1 291.8,1197.8 293.0,1195.6 293.8,1203.1 295.2,1206.1 296.0,1215.1 297.8,1216.6 299.8,1217.3 300.8,1209.1 301.4,1197.1 302.8,1194.1 304.2,1195.6 305.0,1206.1 306.8,1209.1 308.0,1204.6 308.9,1191.0 309.5,1176.0 310.7,1174.5 311.8,1182.0 312.8,1194.1 313.6,1193.4 313.9,1176.0 314.3,1153.5 314.9,1134.0 315.5,1128.0 316.7,1127.2 317.8,1131.0 318.2,1146.0 318.8,1164.0 319.7,1179.0 320.8,1188.0 321.8,1191.0 322.7,1200.1 323.8,1210.6 324.5,1224.1 325.4,1236.1 326.6,1238.4 328.2,1234.6 329.8,1233.9 330.5,1221.1 331.2,1210.6 332.8,1207.6 333.8,1206.1 334.2,1191.0 335.0,1185.8 336.2,1185.8 337.2,1191.0 338.3,1200.1 339.2,1210.6 340.7,1212.8 341.8,1206.1 342.5,1197.8 343.7,1197.8 344.3,1206.1 345.5,1209.1 347.0,1210.6 347.8,1224.1 348.5,1234.6 350.0,1236.1 351.5,1231.6 352.7,1233.1 353.8,1242.1 355.2,1242.1 357.2,1237.6 358.2,1230.1 359.3,1218.1 360.4,1188.0"/>
<polyline points="397.1,1272.9 399.5,1271.4 401.3,1268.0 402.8,1265.7 405.2,1266.5 407.8,1265.0 410.0,1263.5 411.8,1263.0 414.2,1263.9 416.0,1261.2 417.8,1258.2 419.3,1247.7 420.8,1235.7 422.0,1223.7 423.2,1211.7 424.2,1202.7 425.3,1197.4 426.5,1197.4 427.7,1204.2 428.8,1211.7 430.7,1213.2 431.8,1219.2 433.2,1219.9 434.8,1220.7 435.5,1229.7 436.7,1238.7 438.2,1246.9 439.2,1246.2 440.3,1234.2 441.2,1223.7 442.4,1222.9 443.3,1232.7 444.5,1241.7 446.0,1242.4 447.5,1238.7 449.0,1232.7 450.1,1226.7 450.2,1205.7 450.5,1175.7 450.9,1150.1 452.0,1149.4 452.8,1169.7 453.5,1198.2 454.7,1196.7 455.8,1187.7 456.8,1183.2 458.0,1181.7 458.8,1169.7 459.2,1157.6 460.2,1156.9 461.0,1150.1 462.2,1149.4 463.2,1157.6 464.3,1163.7 465.5,1160.7 465.9,1145.6 466.6,1127.6 467.1,1111.1 467.8,1099.9 468.8,1099.1 470.0,1103.6 470.8,1115.6 471.5,1129.1 472.7,1130.6 473.9,1125.4 474.5,1138.1 475.1,1157.6 475.7,1175.7 476.3,1193.7 476.9,1213.2 477.5,1229.7 479.0,1229.7 479.8,1217.7 480.5,1216.9 481.4,1226.7 482.3,1234.2 483.2,1241.7 485.0,1244.7 486.8,1247.7 488.8,1248.4 491.0,1248.4 493.2,1247.7 494.8,1252.2 496.2,1256.0 498.5,1259.7 500.3,1262.7 501.8,1258.2 503.3,1256.7 504.5,1262.7 506.8,1263.5 509.3,1260.5 510.2,1252.2 511.7,1248.4"/>
<polyline points="548.4,1272.9 549.8,1265.7 550.4,1250.7 551.0,1235.8 551.8,1220.8 552.5,1216.0 553.7,1216.3 554.5,1223.8 555.2,1235.8 556.0,1247.7 557.0,1255.2 558.5,1259.7 560.3,1260.5 562.7,1257.5 564.8,1258.2 566.8,1259.0 568.2,1255.2 570.2,1251.5 571.7,1244.7 572.8,1234.3 573.8,1217.8 574.7,1199.8 575.8,1184.8 576.5,1174.3 577.7,1169.8 579.2,1172.1 580.7,1181.8 581.8,1192.3 582.8,1205.8 583.7,1220.8 584.8,1232.8 585.8,1238.0 587.8,1240.2 589.7,1241.7 590.8,1246.2 592.2,1250.0 594.2,1251.5 595.7,1248.5 597.5,1244.7 599.8,1244.0 602.0,1244.7 603.5,1241.7 604.2,1229.8 605.0,1211.8 605.8,1193.8 606.5,1175.8 607.7,1171.3 608.9,1169.1 609.8,1157.8 610.7,1147.4 611.8,1146.6 612.8,1150.4 614.0,1156.3 615.2,1157.8 615.8,1145.9 616.2,1130.9 616.7,1115.9 617.3,1102.4 618.5,1099.1 619.7,1102.4 620.5,1115.9 621.2,1130.9 622.2,1145.9 623.3,1154.9 624.5,1163.8 625.4,1178.8 626.3,1196.8 627.2,1213.3 628.1,1228.3 629.0,1238.8 630.8,1240.2 632.0,1244.7 633.2,1250.7 635.0,1254.5 637.2,1257.9 639.2,1256.0 641.0,1253.7 643.2,1254.5 645.5,1255.2 647.8,1255.2 650.0,1257.5 652.2,1260.5 654.8,1262.4 656.8,1263.5 659.0,1259.7 660.2,1250.7 661.2,1235.8 662.3,1220.8 663.0,1209.5"/>
<polyline points="699.7,1272.9 702.5,1268.4 704.8,1263.9 706.7,1259.4 708.5,1256.5 710.8,1254.7 713.0,1254.2 714.8,1252.3 716.8,1250.2 718.7,1250.5 720.8,1251.2 722.0,1244.5 722.8,1234.0 723.8,1223.6 725.3,1217.6 726.8,1211.6 728.0,1199.6 728.9,1187.7 729.8,1177.2 731.0,1175.7 732.2,1178.7 733.1,1190.7 734.0,1202.6 734.9,1211.6 736.2,1214.6 737.8,1215.3 739.2,1220.6 740.3,1229.5 741.5,1237.0 743.0,1237.8 745.2,1235.5 746.8,1233.3 747.8,1226.5 749.0,1219.1 750.5,1217.6 752.3,1216.1 753.8,1214.6 755.0,1205.6 755.8,1193.6 756.8,1184.7 758.0,1178.7 759.2,1166.7 760.1,1151.8 761.0,1133.8 761.8,1115.9 762.8,1110.6 764.0,1109.9 765.2,1114.4 766.1,1121.9 767.3,1120.4 767.9,1112.9 768.5,1102.4 769.7,1099.1 770.9,1102.4 771.8,1115.9 772.7,1127.8 773.9,1138.3 774.8,1151.8 775.7,1166.7 776.6,1181.7 777.5,1196.6 778.7,1210.1 779.8,1223.6 780.8,1233.3 782.8,1236.3 784.2,1238.5 785.8,1244.5 787.2,1252.0 788.8,1256.5 791.0,1257.7 793.2,1256.5 795.5,1256.8 797.3,1258.7 799.7,1257.2 801.5,1259.4 802.7,1263.2 804.8,1264.7 807.2,1264.7 809.3,1262.4 811.2,1258.0 812.8,1250.5 814.3,1231.0"/>
<polyline points="851.0,1272.9 854.0,1269.9 856.2,1268.0 858.5,1267.2 860.3,1265.0 862.2,1264.5 864.2,1266.5 866.3,1266.0 868.7,1264.5 871.2,1262.0 873.5,1259.0 874.7,1252.2 875.8,1244.7 876.8,1237.3 878.0,1231.3 879.5,1226.8 881.0,1225.6 882.8,1227.5 884.3,1232.8 885.8,1238.8 887.8,1242.5 890.3,1244.0 893.0,1245.0 895.2,1244.0 897.2,1245.5 898.7,1241.7 900.2,1234.3 901.2,1228.3 902.3,1223.8 904.2,1221.5 905.8,1217.8 906.5,1205.8 907.2,1193.8 908.0,1189.3 909.8,1187.8 911.3,1184.8 912.5,1175.8 913.2,1157.8 914.0,1136.9 914.6,1115.9 915.2,1102.4 916.2,1099.1 917.5,1102.4 918.2,1115.9 918.8,1130.9 919.7,1139.9 920.8,1142.1 922.2,1142.9 923.0,1154.9 923.8,1169.8 924.5,1184.8 925.7,1199.8 926.8,1210.3 928.2,1219.3 929.8,1229.8 930.8,1240.2 932.0,1246.2 934.2,1248.0 936.5,1248.5 938.3,1247.7 940.2,1250.7 942.2,1250.0 943.2,1246.2 944.8,1245.9 946.2,1248.5 947.8,1255.2 949.7,1260.5 952.2,1265.7 954.5,1268.7 957.5,1271.0 960.5,1271.4 962.8,1268.7 964.7,1263.5 965.7,1258.2"/>
<polyline points="1002.3,1272.9 1004.8,1270.2 1006.7,1266.2 1008.5,1264.2 1010.8,1264.2 1013.0,1262.7 1015.2,1260.2 1017.2,1257.2 1019.3,1254.2 1021.2,1249.7 1023.2,1243.0 1025.0,1235.5 1026.5,1226.5 1027.7,1214.6 1028.8,1204.1 1029.8,1195.1 1031.0,1190.7 1032.5,1189.9 1034.0,1193.6 1035.2,1201.1 1036.2,1210.1 1037.3,1220.6 1039.2,1221.3 1041.2,1220.6 1043.0,1223.6 1043.8,1229.5 1044.8,1231.8 1046.8,1228.8 1048.7,1227.7 1051.2,1228.0 1052.3,1220.6 1053.5,1211.6 1055.0,1204.1 1056.8,1199.6 1058.0,1190.7 1059.5,1178.7 1061.0,1163.7 1062.2,1148.8 1063.2,1130.8 1064.3,1112.9 1065.2,1102.4 1066.4,1100.9 1067.8,1101.7 1069.2,1102.4 1070.3,1100.9 1071.5,1099.1 1072.7,1101.7 1073.8,1111.4 1074.8,1123.3 1075.7,1135.3 1076.8,1145.8 1078.2,1159.2 1079.3,1172.7 1080.2,1187.7 1081.2,1202.6 1082.3,1217.6 1083.2,1226.5 1085.0,1231.0 1086.8,1230.3 1088.0,1235.5 1089.5,1243.0 1090.7,1250.5 1091.3,1256.5 1093.2,1255.0 1095.2,1252.7 1096.7,1253.5 1097.8,1255.7 1099.2,1256.5 1100.0,1244.5 1101.2,1241.5 1103.3,1243.0 1104.5,1252.0 1105.7,1260.2 1107.8,1261.7 1109.8,1263.9 1111.7,1265.4 1113.2,1263.2 1114.7,1255.0 1116.2,1247.5 1117.0,1240.8"/>
<polyline points="1153.7,1272.9 1156.0,1270.2 1157.2,1263.9 1158.2,1259.4 1160.2,1258.3 1162.3,1259.2 1164.7,1259.7 1166.8,1261.2 1169.2,1260.9 1171.3,1261.2 1173.2,1260.2 1175.2,1258.0 1176.2,1253.5 1177.3,1244.5 1178.2,1234.0 1179.2,1223.6 1180.3,1213.1 1181.5,1207.1 1183.3,1205.3 1185.2,1206.4 1186.8,1210.1 1188.7,1210.8 1189.8,1217.6 1190.5,1226.5 1192.0,1232.5 1193.8,1238.5 1195.3,1242.2 1197.2,1243.0 1198.3,1247.5 1199.5,1250.5 1201.8,1251.2 1204.0,1249.7 1205.8,1246.7 1207.0,1243.0 1207.3,1220.6 1207.8,1190.7 1208.2,1167.9 1209.4,1167.5 1210.0,1190.7 1210.5,1213.1 1210.9,1225.0 1211.8,1223.6 1212.4,1216.1 1213.6,1214.6 1214.5,1211.6 1215.2,1196.6 1216.0,1178.7 1217.2,1163.7 1218.2,1150.3 1219.8,1149.5 1221.2,1145.8 1222.0,1133.8 1222.8,1118.9 1223.5,1103.9 1224.4,1099.1 1225.6,1100.9 1226.2,1112.9 1227.1,1127.8 1228.3,1139.8 1229.2,1153.3 1230.1,1169.7 1231.0,1184.7 1231.9,1196.6 1232.8,1208.6 1234.0,1216.1 1235.8,1218.3 1236.7,1226.5 1237.6,1235.5 1238.5,1244.5 1240.3,1245.2 1242.2,1247.5 1244.2,1249.7 1246.0,1246.7 1247.8,1247.5 1250.2,1249.7 1251.7,1255.0 1253.5,1259.4 1255.8,1263.2 1258.0,1266.2 1260.7,1267.2 1263.2,1267.2 1265.2,1264.7 1266.7,1258.0 1268.3,1252.0"/>
<polyline points="1305.0,1272.9 1307.5,1270.7 1309.0,1266.9 1310.8,1265.4 1313.2,1266.2 1315.8,1265.4 1318.0,1266.2 1320.2,1265.4 1322.2,1263.2 1323.7,1259.4 1325.2,1252.0 1326.7,1241.5 1327.8,1229.5 1328.8,1217.6 1330.0,1213.1 1331.2,1208.6 1332.7,1204.1 1334.2,1204.1 1335.2,1208.6 1336.3,1214.6 1337.5,1220.6 1338.7,1229.5 1339.8,1238.5 1340.8,1243.7 1342.8,1244.5 1344.2,1241.5 1346.2,1238.5 1347.2,1235.5 1348.8,1233.3 1350.2,1233.3 1351.0,1240.0 1352.2,1243.7 1354.0,1243.0 1356.2,1240.0 1358.2,1237.0 1360.0,1234.0 1360.8,1228.0 1361.8,1219.1 1363.0,1216.1 1364.5,1217.6 1365.7,1219.1 1366.3,1205.6 1366.8,1190.7 1367.2,1175.7 1368.2,1163.7 1369.8,1162.2 1371.2,1160.7 1372.0,1145.8 1372.8,1130.8 1373.5,1115.9 1374.7,1102.4 1376.2,1099.1 1377.7,1099.4 1378.8,1105.4 1379.5,1115.9 1380.7,1130.8 1381.8,1142.8 1383.2,1153.3 1384.3,1163.7 1385.5,1175.7 1386.7,1190.7 1387.8,1205.6 1388.5,1217.6 1389.2,1226.5 1390.8,1230.3 1393.0,1231.8 1394.8,1235.5 1396.8,1237.8 1399.0,1240.0 1400.8,1244.5 1402.3,1247.5 1403.5,1251.2 1405.3,1253.5 1406.5,1258.0 1408.0,1262.4 1409.5,1266.2 1411.8,1268.4 1413.7,1269.2 1415.8,1266.9 1417.8,1262.4 1419.6,1252.0"/>
<polyline points="1456.3,1272.9 1459.0,1271.0 1461.2,1268.0 1463.5,1267.2 1465.8,1265.4 1468.3,1263.9 1470.7,1261.2 1472.8,1258.2 1474.3,1253.7 1475.8,1249.9 1477.8,1246.9 1479.7,1245.0 1481.2,1241.7 1482.7,1237.2 1483.8,1232.7 1484.8,1230.9 1486.3,1231.5 1487.8,1233.4 1489.0,1237.2 1489.8,1241.7 1490.8,1244.7 1492.3,1245.4 1493.8,1241.7 1495.0,1239.0 1496.5,1240.2 1497.7,1244.7 1499.2,1247.7 1500.2,1246.9 1501.0,1240.2 1501.8,1235.4 1503.2,1235.7 1505.2,1235.4 1506.2,1232.7 1507.8,1229.7 1509.2,1226.7 1510.8,1222.9 1512.7,1219.2 1513.8,1211.7 1514.5,1202.7 1515.7,1196.7 1516.8,1187.7 1517.5,1175.7 1518.2,1160.7 1519.0,1147.1 1520.2,1145.6 1521.4,1147.1 1522.3,1154.6 1523.5,1155.4 1524.2,1142.6 1525.0,1124.6 1525.8,1108.1 1526.5,1099.9 1527.5,1099.1 1528.5,1103.6 1529.2,1115.6 1530.2,1130.6 1531.3,1142.6 1532.8,1151.6 1533.7,1163.7 1534.6,1178.7 1535.5,1193.7 1536.7,1205.7 1537.9,1216.2 1539.1,1226.7 1540.0,1237.2 1541.5,1239.4 1543.8,1238.7 1546.0,1238.4 1547.2,1234.2 1548.7,1230.9 1550.5,1231.9 1552.0,1235.7 1553.5,1241.7 1555.0,1247.7 1556.8,1253.7 1558.8,1259.7 1560.7,1262.7 1562.8,1265.7 1565.5,1267.2 1567.8,1265.7 1569.2,1261.2 1570.9,1252.2"/>
<polyline points="1607.6,1272.9 1609.3,1269.2 1611.2,1266.2 1613.2,1264.7 1615.0,1263.9 1617.2,1265.1 1619.5,1266.2 1621.8,1266.6 1623.7,1265.4 1625.5,1260.9 1626.7,1253.5 1627.8,1241.5 1628.8,1226.5 1629.7,1211.6 1630.8,1193.6 1631.8,1175.7 1632.7,1160.7 1633.8,1148.8 1634.8,1141.3 1636.3,1138.3 1637.8,1141.3 1639.0,1148.8 1640.2,1160.7 1641.2,1175.7 1642.3,1190.7 1643.5,1205.6 1645.0,1220.6 1646.8,1231.0 1648.8,1237.0 1651.0,1241.5 1653.2,1242.2 1655.5,1240.0 1657.3,1235.5 1658.8,1228.0 1660.3,1217.6 1661.8,1205.6 1663.3,1193.6 1664.8,1180.2 1666.3,1166.7 1667.8,1153.3 1669.3,1145.8 1670.5,1139.8 1671.7,1127.8 1672.8,1115.9 1673.8,1106.9 1675.0,1101.7 1676.5,1099.4 1678.3,1099.1 1679.8,1099.7 1681.0,1105.4 1682.2,1115.9 1683.2,1130.8 1684.3,1144.3 1685.5,1157.7 1687.0,1172.7 1688.5,1186.2 1689.7,1195.1 1690.8,1201.1 1692.2,1204.9 1693.8,1205.6 1695.7,1204.1 1697.2,1199.6 1698.7,1195.9 1700.2,1196.3 1701.7,1199.6 1703.2,1205.6 1704.7,1214.6 1706.2,1225.0 1707.7,1235.5 1709.2,1243.0 1711.0,1250.5 1712.5,1254.2 1714.3,1255.7 1715.8,1253.5 1717.0,1247.5 1718.2,1235.5 1719.7,1229.5 1721.2,1222.1 1722.3,1216.1"/>
</g>
</svg>
</div></body></html>
